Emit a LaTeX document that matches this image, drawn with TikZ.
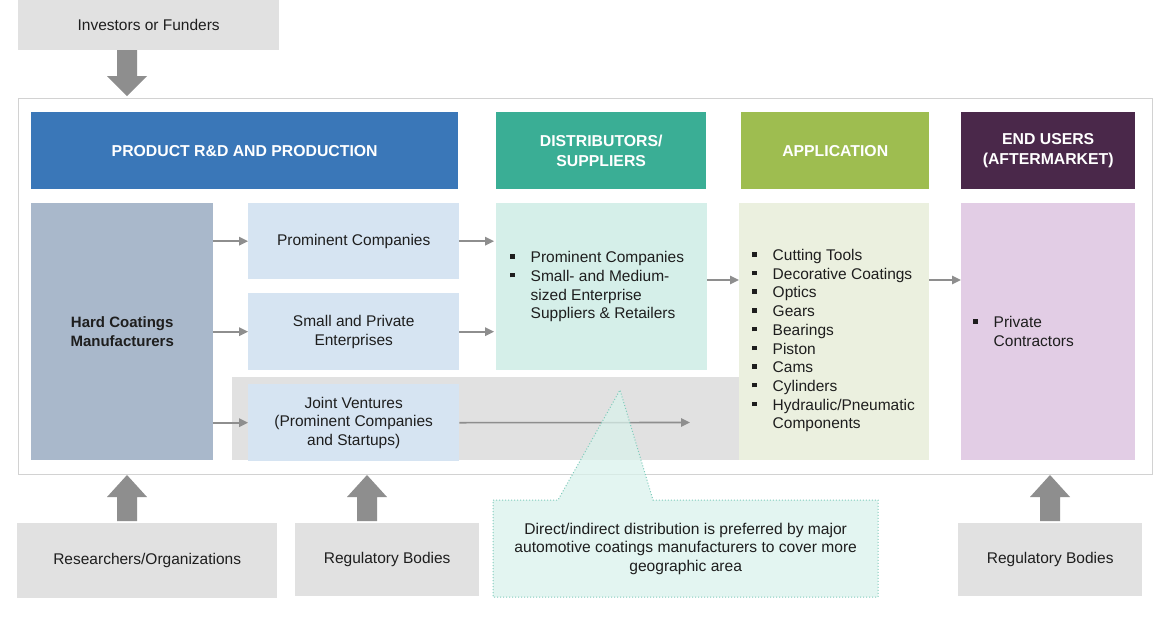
\documentclass[tikz,border=0pt]{standalone}
\usepackage{fontspec}
\setmainfont{Liberation Sans}
\usetikzlibrary{arrows.meta}
\definecolor{hblue}{HTML}{3A77B8}
\definecolor{hteal}{HTML}{3AAE95}
\definecolor{hgreen}{HTML}{9EBD50}
\definecolor{hpurple}{HTML}{4A284A}
\definecolor{hcbox}{HTML}{A9B8CB}
\definecolor{lblue}{HTML}{D6E4F2}
\definecolor{lteal}{HTML}{D5EFE9}
\definecolor{lgreen}{HTML}{EBF0DF}
\definecolor{lpurple}{HTML}{E2CDE5}
\definecolor{lgray}{HTML}{E1E1E1}
\definecolor{agray}{HTML}{8E8E8E}
\definecolor{framegray}{HTML}{D2D2D2}
\definecolor{txt}{HTML}{1E1E1E}
\definecolor{callfill}{HTML}{D9F2EC}
\definecolor{calldraw}{HTML}{7FCBBB}
\newcommand{\bitem}[1]{\makebox[20.5pt][l]{\rule[4pt]{4.5pt}{4.5pt}}#1}
\newcommand{\citem}[1]{\hspace*{20.5pt}#1}
\newcommand{\blockarr}[4]{\fill[agray] (#1,#2) -- (#1+20,#3) -- (#1+10,#3) -- (#1+10,#4) -- (#1-10,#4) -- (#1-10,#3) -- (#1-20,#3) -- cycle;}
\tikzset{
  box/.style={draw=none, inner sep=0pt, anchor=north west, align=center, text=txt,
    font=\fontsize{15.5}{18.7}\selectfont},
  head/.style={box, text=white, font=\bfseries\fontsize{15.8}{20}\selectfont},
  listtext/.style={inner sep=0pt, anchor=west, align=left, text=txt,
    font=\fontsize{15.5}{18.7}\selectfont},
  conn/.style={draw=agray, line width=1.6pt, -{Triangle[length=9pt,width=8.5pt]}},
}
\begin{document}
\begin{tikzpicture}[x=1pt,y=-1pt]
\useasboundingbox (0,0) rectangle (1170,616);
\fill[white] (0,0) rectangle (1170,616);
% top source
\node[box, fill=lgray, minimum width=261, minimum height=50] (inv) at (18,0) {Investors or Funders};
\blockarr{127}{96}{76}{50}
% frame
\node[box, draw=framegray, line width=1pt, fill=white, minimum width=1134, minimum height=376] (frame) at (18,98) {};
% headers
\node[head, fill=hblue, minimum width=427, minimum height=77] (rdh) at (31,112) {PRODUCT R\&D AND PRODUCTION};
\node[head, fill=hteal, minimum width=210, minimum height=77] (dsh) at (496,112) {DISTRIBUTORS/\\SUPPLIERS};
\node[head, fill=hgreen, minimum width=188, minimum height=77] (aph) at (741,112) {APPLICATION};
\node[head, fill=hpurple, minimum width=174, minimum height=77] (euh) at (961,112) {END USERS\\(AFTERMARKET)};
% content boxes
\node[box, fill=hcbox, minimum width=182, minimum height=257, font=\bfseries\fontsize{15}{18.7}\selectfont] (hc) at (31,203) {Hard Coatings\\Manufacturers};
\node[box, fill=lblue, minimum width=211, minimum height=76] (pc) at (248,203) {Prominent Companies};
\node[box, fill=lblue, minimum width=211, minimum height=77] (sp) at (248,293) {Small and Private\\Enterprises};
\node[box, fill=lgray, minimum width=508, minimum height=83] (band) at (232,377) {};
\node[box, fill=lblue, minimum width=211, minimum height=77] (jv) at (248,384) {Joint Ventures\\(Prominent Companies\\and Startups)};
\node[box, fill=lteal, minimum width=211, minimum height=167] (dist) at (496,203) {};
\node[box, fill=lgreen, minimum width=190, minimum height=257] (app) at (739,203) {};
\node[box, fill=lpurple, minimum width=174, minimum height=257] (eu) at (961,203) {};
% lists
\node[listtext] (distlist) at ([xshift=14pt]dist.west) {\bitem{Prominent Companies}\\\bitem{Small- and Medium-}\\\citem{sized Enterprise}\\\citem{Suppliers \& Retailers}};
\node[listtext] (applist) at ([xshift=13pt,yshift=-9pt]app.west) {\bitem{Cutting Tools}\\\bitem{Decorative Coatings}\\\bitem{Optics}\\\bitem{Gears}\\\bitem{Bearings}\\\bitem{Piston}\\\bitem{Cams}\\\bitem{Cylinders}\\\bitem{Hydraulic/Pneumatic}\\\citem{Components}};
\node[listtext] (eulist) at ([xshift=12pt]eu.west) {\bitem{Private}\\\citem{Contractors}};
% connectors
\coordinate (r1) at (0,280);
\coordinate (jvend) at (690,422.5);
\draw[conn] (hc.east |- pc.west) -- (pc.west);
\draw[conn] (hc.east |- sp.west) -- (sp.west);
\draw[conn] (hc.east |- jv.west) -- (jv.west);
\draw[conn] (pc.east) -- ([xshift=-2pt]dist.west |- pc.east);
\draw[conn] (sp.east) -- ([xshift=-2pt]dist.west |- sp.east);
\draw[conn] (jv.east) -- (jvend);
\draw[conn] (dist.east |- r1) -- (app.west |- r1);
\draw[conn] (app.east |- r1) -- (eu.west |- r1);
% callout
\path[fill=callfill, fill opacity=0.72, draw=calldraw, draw opacity=1, dotted, line width=1pt]
  (493,500) -- (558,500) -- (620,390) -- (653,500) -- (878,500) -- (878,597) -- (493,597) -- cycle;
\node[box, minimum width=385, minimum height=97, font=\fontsize{15.6}{18.6}\selectfont] (call) at (493,500)
  {Direct/indirect distribution is preferred by major\\automotive coatings manufacturers to cover more\\geographic area};
% bottom sources
\node[box, fill=lgray, minimum width=260, minimum height=75] (res) at (17,523) {Researchers/Organizations};
\node[box, fill=lgray, minimum width=184, minimum height=73] (reg1) at (295,523) {Regulatory Bodies};
\node[box, fill=lgray, minimum width=184, minimum height=73] (reg2) at (958,523) {Regulatory Bodies};
\blockarr{127}{475}{497}{521}
\blockarr{367}{475}{497}{521}
\blockarr{1050}{475}{497}{521}
\end{tikzpicture}
\end{document}
